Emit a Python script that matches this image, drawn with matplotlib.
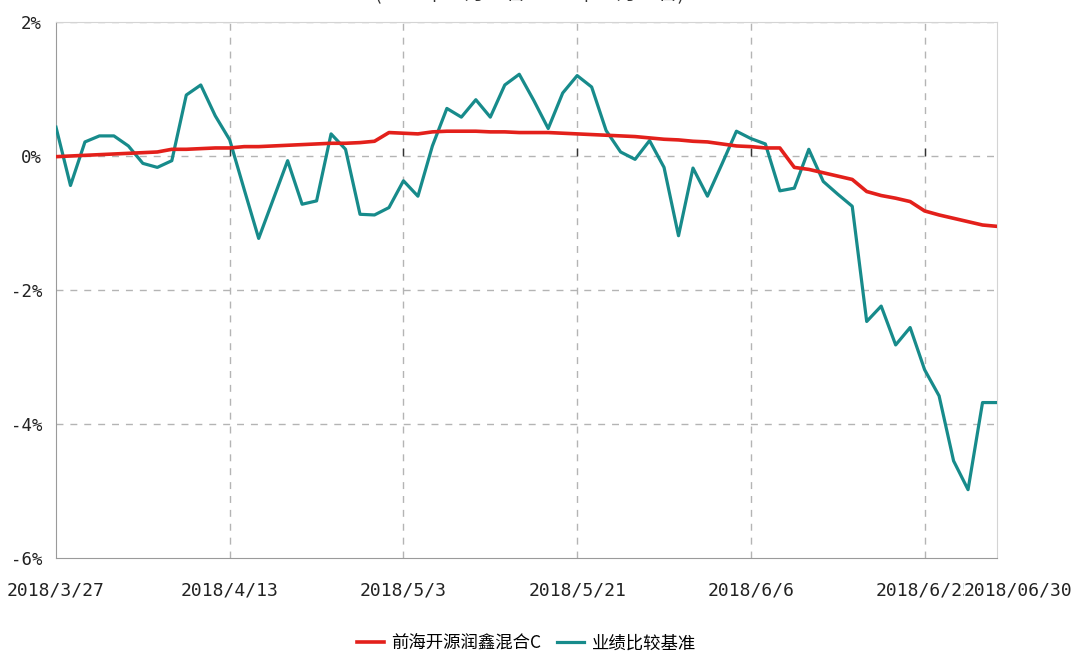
import numpy as np
import matplotlib
matplotlib.use('Agg')
import matplotlib.pyplot as plt
from matplotlib.transforms import ScaledTranslation

# series values in %, one per trading day
fund = [-0.01, 0.00, 0.01, 0.02, 0.03, 0.04, 0.05, 0.06, 0.10, 0.10,
        0.11, 0.12, 0.12, 0.14, 0.14, 0.15, 0.16, 0.17, 0.18, 0.19,
        0.19, 0.20, 0.22, 0.35, 0.34, 0.33, 0.36, 0.37, 0.37, 0.37,
        0.36, 0.36, 0.35, 0.35, 0.35, 0.34, 0.33, 0.32, 0.31, 0.30,
        0.29, 0.27, 0.25, 0.24, 0.22, 0.21, 0.18, 0.15, 0.14, 0.12,
        0.12, -0.17, -0.20, -0.25, -0.30, -0.35, -0.53, -0.59, -0.63, -0.68,
        -0.82, -0.88, -0.93, -0.98, -1.03, -1.05]
benchmark = [0.43, -0.44, 0.21, 0.30, 0.30, 0.15, -0.11, -0.17, -0.07, 0.91,
             1.06, 0.60, 0.24, -0.50, -1.23, -0.65, -0.07, -0.72, -0.67, 0.33,
             0.10, -0.87, -0.88, -0.77, -0.37, -0.60, 0.15, 0.71, 0.58, 0.84,
             0.58, 1.06, 1.22, 0.83, 0.41, 0.94, 1.20, 1.03, 0.38, 0.06,
             -0.05, 0.23, -0.17, -1.19, -0.18, -0.60, -0.12, 0.37, 0.26, 0.18,
             -0.52, -0.48, 0.10, -0.38, -0.57, -0.75, -2.47, -2.24, -2.82, -2.56,
             -3.19, -3.58, -4.55, -4.98, -3.68, -3.68]
tick_pos = [0, 12, 24, 36, 48, 60, 65]
tick_labels = ['2018/3/27', '2018/4/13', '2018/5/3', '2018/5/21', '2018/6/6',
               '2018/6/25', '2018/06/30']
y_ticks = [-6, -4, -2, 0, 2]
names = ['前海开源润鑫混合C', '业绩比较基准']
title = '(2018年03月27日-2018年06月30日)'

plt.rcParams['font.family'] = ['Noto Sans CJK SC', 'DejaVu Sans']

fig = plt.figure(figsize=(10.73, 6.53), dpi=100)
ax = fig.add_axes([56 / 1073, 1 - 558 / 653, 941 / 1073, 536 / 653])

x = np.arange(len(fund))
ax.plot(x, fund, color='#e3201b', lw=2.6, label=names[0], zorder=4)
ax.plot(x, benchmark, color='#178b8b', lw=2.3, label=names[1], zorder=3)

ax.set_xlim(0, len(fund) - 1)
ax.set_ylim(-6, 2)

# dashed grid
for t in y_ticks[1:]:
    ax.axhline(t, color='#b4b4b4', lw=1, ls=(0, (5, 5)), zorder=1)
for t in tick_pos[1:-1]:
    ax.axvline(t, color='#b4b4b4', lw=1, ls=(0, (5, 5)), zorder=1)
    ax.vlines(t, 0, 0.12, color='#333333', lw=1, zorder=2)

for s in ['left', 'bottom']:
    ax.spines[s].set_color('#9a9a9a')
for s in ['top', 'right']:
    ax.spines[s].set_color('#d4d4d4')

tick_font = ['DejaVu Sans Mono']
ax.set_yticks(y_ticks)
ax.set_yticklabels(['%d%%' % v for v in y_ticks], family=tick_font, fontsize=12.5, color='#222222')
ax.set_xticks(tick_pos)
ax.set_xticklabels(tick_labels, family=tick_font, fontsize=13, color='#222222')
ax.tick_params(axis='both', length=0)
ax.tick_params(axis='x', pad=17)
ax.tick_params(axis='y', pad=10)

# last date label is pushed right and covers the one before it
last = ax.get_xticklabels()[-1]
last.set_transform(last.get_transform() + ScaledTranslation(0.21, 0, fig.dpi_scale_trans))
last.set_bbox(dict(facecolor='white', edgecolor='none', pad=0))

# title sits mostly above the top edge, as in the source image
fig.text(0.493, 1 - 0.5 / 653, title, ha='center', va='baseline', fontsize=14, color='#333333')

ax.legend(loc='lower center', bbox_to_anchor=(0.5, -0.205), ncol=2, frameon=False,
          fontsize=12.5, handlelength=1.55, handletextpad=0.45, columnspacing=0.9)

plt.savefig('out.png', dpi=100)
